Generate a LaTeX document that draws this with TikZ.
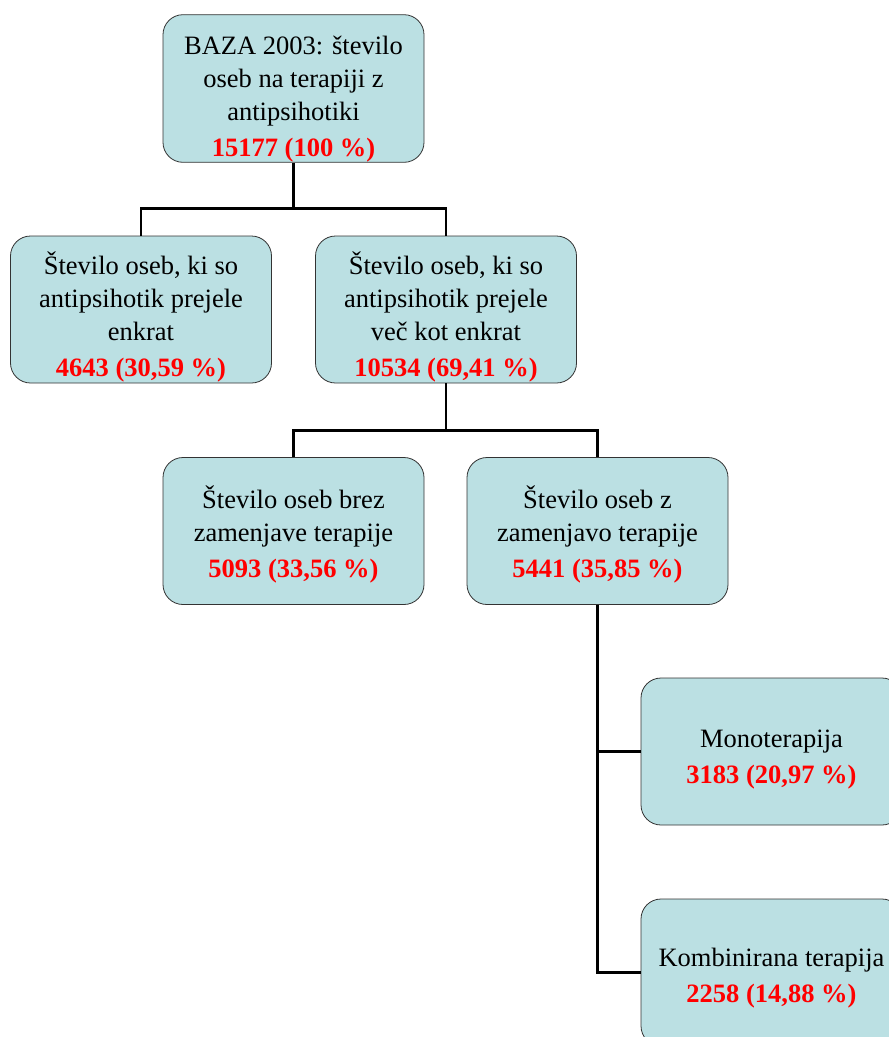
\documentclass[tikz,border=0pt]{standalone}
\usepackage{fontspec}
\setmainfont{Liberation Serif}
\usetikzlibrary{positioning}
\definecolor{boxfill}{HTML}{BBE0E3}
\definecolor{boxline}{HTML}{333333}
\tikzset{
  box/.style={draw=boxline, line width=0.8pt, rounded corners=20pt, fill=boxfill, align=center,
    minimum width=261pt, minimum height=147pt, inner sep=0pt,
    font=\fontsize{26.5}{33}\selectfont},
  link/.style={line width=2.6pt, draw=black}
}
\newcommand{\num}[1]{{\color{red}\bfseries #1}}
\newcommand{\lowr}[1]{\rule{0pt}{#1}}

\begin{document}
\begin{tikzpicture}[x=1pt, y=1pt]
  \useasboundingbox (0,0) rectangle (889,-1037);
  \clip (0,0) rectangle (889,-1037);
  \node[box] (base) at (293.5,-88.5) {\lowr{40pt}BAZA 2003: število\\oseb na terapiji z\\antipsihotiki\\[3pt]\num{15177 (100 \%)}};
  \node[box] (enkrat) at (141,-309.5) {\lowr{38pt}Število oseb, ki so\\antipsihotik prejele\\enkrat\\[3pt]\num{4643 (30,59 \%)}};
  \node[box] (vec) at (446,-309.5) {\lowr{38pt}Število oseb, ki so\\antipsihotik prejele\\več kot enkrat\\[3pt]\num{10534 (69,41 \%)}};
  \node[box] (brez) at (293.5,-531) {\lowr{30pt}Število oseb brez\\zamenjave terapije\\[3pt]\num{5093 (33,56 \%)}};
  \node[box] (zamenjava) at (597.5,-531) {\lowr{30pt}Število oseb z\\zamenjavo terapije\\[3pt]\num{5441 (35,85 \%)}};
  \node[box] (mono) at (771.5,-751.5) {\lowr{34pt}Monoterapija\\[3pt]\num{3183 (20,97 \%)}};
  \node[box] (kombi) at (771.5,-972.5) {\lowr{30pt}Kombinirana terapija\\[3pt]\num{2258 (14,88 \%)}};
  % povezave
  \coordinate (j1) at ([yshift=-46pt]base.south);
  \coordinate (j2) at ([yshift=-47pt]vec.south);
  \draw[link] (base.south) -- (j1) -| (enkrat.north);
  \draw[link] (j1) -| (vec.north);
  \draw[link] (vec.south) -- (j2) -| (brez.north);
  \draw[link] (j2) -| (zamenjava.north);
  \draw[link] (zamenjava.south) |- (mono.west);
  \draw[link] (zamenjava.south) |- (kombi.west);
\end{tikzpicture}
\end{document}
